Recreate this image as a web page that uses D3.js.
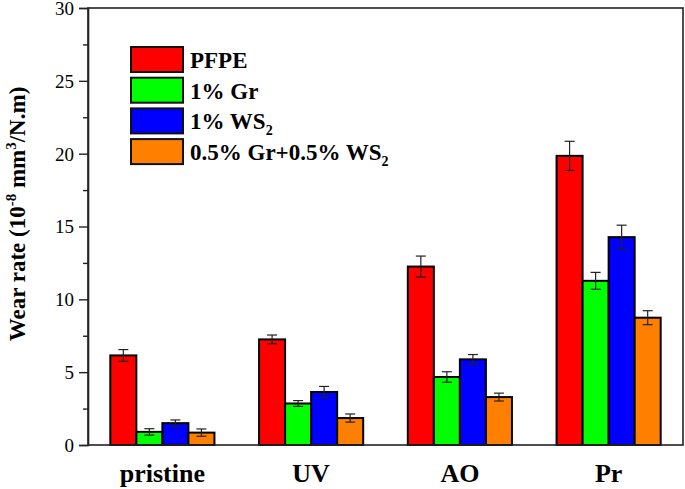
<!DOCTYPE html>
<html><head><meta charset="utf-8">
<script src="https://cdn.jsdelivr.net/npm/d3@7"></script>
<style>body{margin:0;background:#fff}svg{display:block}</style>
</head><body>
<script>
const categories = ["pristine", "UV", "AO", "Pr"];
const seriesNames = ["PFPE", "1% Gr", "1% WS2", "0.5% Gr+0.5% WS2"];
const colors = ["#ff0000", "#00ff00", "#0000ff", "#ff8000"];
const pfpe = [6.15, 7.25, 12.25, 19.85];
const gr = [0.9, 2.85, 4.67, 11.27];
const ws2 = [1.5, 3.64, 5.88, 14.27];
const mix = [0.85, 1.85, 3.29, 8.74];
const pfpeErr = [0.4, 0.3, 0.72, 1.0];
const grErr = [0.22, 0.2, 0.36, 0.58];
const ws2Err = [0.22, 0.38, 0.33, 0.82];
const mixErr = [0.25, 0.28, 0.27, 0.48];
const yTicks = [0, 5, 10, 15, 20, 25, 30];

const values = [pfpe, gr, ws2, mix];
const errs = [pfpeErr, grErr, ws2Err, mixErr];
const FONT = '"Liberation Serif", "Times New Roman", serif';

const W = 685, H = 489;
const m = {left: 88, right: 2, top: 8, bottom: 44};
const svg = d3.select("body").append("svg").attr("width", W).attr("height", H);

const x = d3.scaleBand().domain(categories).range([m.left, W - m.right]).paddingInner(0.3).paddingOuter(0.15);
const xs = d3.scaleBand().domain(d3.range(4)).range([0, x.bandwidth()]);
const y = d3.scaleLinear().domain([0, 30]).range([H - m.bottom, m.top]);

const data = [];
categories.forEach((c, ci) => values.forEach((s, si) => data.push({c, si, v: s[ci], e: errs[si][ci]})));

// bars
svg.append("g").selectAll("rect").data(data).join("rect")
  .attr("x", d => x(d.c) + xs(d.si))
  .attr("y", d => y(d.v))
  .attr("width", xs.bandwidth())
  .attr("height", d => y(0) - y(d.v))
  .attr("fill", d => colors[d.si])
  .attr("stroke", "#000").attr("stroke-width", 2);

// error bars
const eg = svg.append("g").attr("stroke", "#222").attr("stroke-width", 1.2);
data.forEach(d => {
  const cx = x(d.c) + xs(d.si) + xs.bandwidth() / 2;
  eg.append("line").attr("x1", cx).attr("x2", cx).attr("y1", y(d.v + d.e)).attr("y2", y(d.v - d.e));
  eg.append("line").attr("x1", cx - 5).attr("x2", cx + 5).attr("y1", y(d.v + d.e)).attr("y2", y(d.v + d.e));
  eg.append("line").attr("x1", cx - 5).attr("x2", cx + 5).attr("y1", y(d.v - d.e)).attr("y2", y(d.v - d.e));
});

// frame
svg.append("rect").attr("x", m.left).attr("y", m.top).attr("width", W - m.right - m.left).attr("height", y(0) - m.top)
  .attr("fill", "none").attr("stroke", "#222").attr("stroke-width", 1.6);

// y axis
const ya = svg.append("g").attr("transform", `translate(${m.left},0)`)
  .call(d3.axisLeft(y).tickValues(yTicks).tickSize(9).tickPadding(5).tickFormat(d3.format("d")));
ya.attr("font-family", null).attr("font-size", null);
ya.select(".domain").attr("stroke", "#222").attr("stroke-width", 1.6);
ya.selectAll(".tick line").attr("stroke", "#222").attr("stroke-width", 1.4);
ya.selectAll("text").style("font-family", FONT).style("font-size", "19px").attr("fill", "#000").attr("dy", "0.34em");
const ym = svg.append("g").attr("transform", `translate(${m.left},0)`)
  .call(d3.axisLeft(y).tickValues(d3.range(2.5, 30, 5)).tickSize(5).tickFormat(""));
ym.select(".domain").remove();
ym.selectAll(".tick line").attr("stroke", "#222").attr("stroke-width", 1.4);

// x labels
svg.append("g").selectAll("text").data(categories).join("text")
  .attr("x", d => x(d) + x.bandwidth() / 2).attr("y", 482)
  .attr("text-anchor", "middle")
  .style("font-family", FONT).style("font-weight", "bold").style("font-size", "26px")
  .text(d => d);

// y label
const yl = svg.append("text").attr("transform", `translate(25,214) rotate(-90)`)
  .attr("text-anchor", "middle")
  .style("font-family", FONT).style("font-weight", "bold").style("font-size", "23px");
yl.append("tspan").text("Wear rate (10");
yl.append("tspan").attr("dy", -9).style("font-size", "15px").text("-8");
yl.append("tspan").attr("dy", 9).text(" mm");
yl.append("tspan").attr("dy", -9).style("font-size", "15px").text("3");
yl.append("tspan").attr("dy", 9).text("/N.m)");

// legend
const lg = svg.append("g");
seriesNames.forEach((n, i) => {
  const yy = 47 + i * 30.7;
  lg.append("rect").attr("x", 131).attr("y", yy).attr("width", 52).attr("height", 25)
    .attr("fill", colors[i]).attr("stroke", "#111").attr("stroke-width", 2);
  const t = lg.append("text").attr("x", 190).attr("y", yy + 21)
    .style("font-family", FONT).style("font-weight", "bold").style("font-size", "23px");
  if (n.endsWith("WS2")) {
    t.append("tspan").text(n.slice(0, -1));
    t.append("tspan").attr("dy", 6).style("font-size", "14px").text("2");
  } else t.text(n);
});
</script>
</body></html>
